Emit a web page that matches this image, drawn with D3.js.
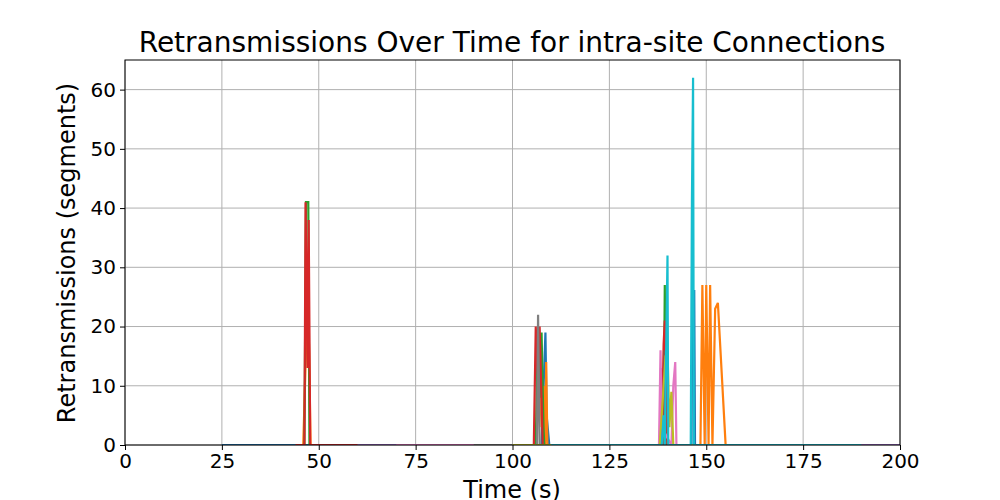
<!doctype html>
<html>
<head>
<script src="https://d3js.org/d3.v7.min.js"></script>
<style>
body { margin: 0; background: #fff; }
text { font-family: "DejaVu Sans", sans-serif; }
</style>
</head>
<body>
<svg width=1000 height=500></svg>
<script>
var xTicks = [0, 25, 50, 75, 100, 125, 150, 175, 200];
var yTicks = [0, 10, 20, 30, 40, 50, 60];
var colors = ["#1f77b4", "#ff7f0e", "#2ca02c", "#d62728", "#9467bd", "#8c564b", "#e377c2", "#7f7f7f", "#bcbd22", "#17becf"];

// each connection: times (s) and retransmissions (segments)
var blueT = [25, 27, 45, 107.5, 108.5, 108.8, 109.5, 146.2, 146.4, 146.9, 147.1, 160, 200];
var blueV = [0, 0, 0, 0, 19, 5, 0, 0, 26, 26, 0, 0, 0];
var orangeT = [46, 47.2, 47.5, 47.9, 105.8, 106.5, 107, 107.5, 108, 108.4, 108.7, 109, 148.5, 149, 149.6, 150, 150.6, 151, 151.6, 152.3, 153, 155, 200];
var orangeV = [0, 27, 16, 0, 0, 5, 12, 3, 10, 0, 14, 0, 0, 27, 0, 27, 0, 27, 0, 23, 24, 0, 0];
var greenT = [46.3, 46.7, 47.3, 47.6, 106, 106.5, 107, 107.5, 108, 108.2, 139, 139.3, 139.6, 140, 200];
var greenV = [0, 41, 41, 0, 0, 18, 8, 19, 3, 0, 0, 27, 5, 0, 0];
var redT = [44, 46.3, 46.6, 47.1, 47.4, 47.8, 105.5, 106, 106.5, 107, 107.4, 107.8, 138.5, 139, 139.3, 139.6, 140];
var redV = [0, 0, 41, 13, 38, 0, 0, 20, 12, 20, 10, 0, 0, 17, 21, 10, 0];
var purpleT = [60, 138, 138.3, 138.6, 143, 200];
var purpleV = [0, 0, 13, 0, 0, 0];
var brownT = [120, 139, 139.2, 139.5, 160];
var brownV = [0, 0, 16, 0, 0];
var pinkT = [70, 137.8, 138.2, 138.5, 141, 141.5, 142, 142.3, 170];
var pinkV = [0, 0, 16, 3, 0, 10, 14, 0, 0];
var grayT = [90, 106.3, 106.6, 107, 130];
var grayV = [0, 0, 22, 0, 0];
var oliveT = [100, 138, 138.5, 139, 139.5, 140, 140.5, 141, 141.5, 180];
var oliveV = [0, 0, 5, 10, 15, 16, 3, 9, 0, 0];
var cyanT = [110, 138.5, 139, 139.3, 140, 140.2, 146, 146.3, 146.6, 146.8, 150, 190];
var cyanV = [0, 0, 5, 0, 32, 0, 0, 41, 62, 0, 0, 0];

var series = [[blueT, blueV], [orangeT, orangeV], [greenT, greenV], [redT, redV], [purpleT, purpleV],
  [brownT, brownV], [pinkT, pinkV], [grayT, grayV], [oliveT, oliveV], [cyanT, cyanV]];

var svg = d3.select("svg");
var L = 125, R = 900, T = 60, B = 445;
var x = d3.scaleLinear().domain([0, 200]).range([L, R]);
var y = d3.scaleLinear().domain([0, 65]).range([B, T]);

svg.append("clipPath").attr("id", "c").append("rect")
  .attr("x", L).attr("y", T).attr("width", R - L).attr("height", B - T);

svg.append("g").selectAll("line").data(xTicks).join("line")
  .attr("x1", d => x(d)).attr("x2", d => x(d)).attr("y1", T).attr("y2", B)
  .attr("stroke", "#b0b0b0").attr("stroke-width", 1);
svg.append("g").selectAll("line").data(yTicks).join("line")
  .attr("y1", d => y(d)).attr("y2", d => y(d)).attr("x1", L).attr("x2", R)
  .attr("stroke", "#b0b0b0").attr("stroke-width", 1);

var line = d3.line().x(d => x(d[0])).y(d => y(d[1]));
svg.append("g").attr("clip-path", "url(#c)").selectAll("path").data(series).join("path")
  .attr("d", s => line(s[0].map((t, i) => [t, s[1][i]])))
  .attr("fill", "none").attr("stroke", (s, i) => colors[i]).attr("stroke-width", 2.2);

svg.append("rect").attr("x", L).attr("y", T).attr("width", R - L).attr("height", B - T)
  .attr("fill", "none").attr("stroke", "#000").attr("stroke-width", 1);

var xa = svg.append("g").attr("transform", "translate(0," + B + ")")
  .call(d3.axisBottom(x).tickValues(xTicks).tickSize(5).tickPadding(4));
var ya = svg.append("g").attr("transform", "translate(" + L + ",0)")
  .call(d3.axisLeft(y).tickValues(yTicks).tickSize(5).tickPadding(4));
[xa, ya].forEach(a => {
  a.select(".domain").remove();
  a.selectAll("text").attr("font-size", 20).attr("font-family", "DejaVu Sans").attr("fill", "#000");
});

svg.append("text").attr("x", 512).attr("y", 52).attr("text-anchor", "middle")
  .attr("font-size", 28).text("Retransmissions Over Time for intra-site Connections");
svg.append("text").attr("x", 512).attr("y", 498).attr("text-anchor", "middle")
  .attr("font-size", 24).text("Time (s)");
svg.append("text").attr("transform", "translate(75,253) rotate(-90)").attr("text-anchor", "middle")
  .attr("font-size", 24).text("Retransmissions (segments)");
</script>
</body>
</html>
